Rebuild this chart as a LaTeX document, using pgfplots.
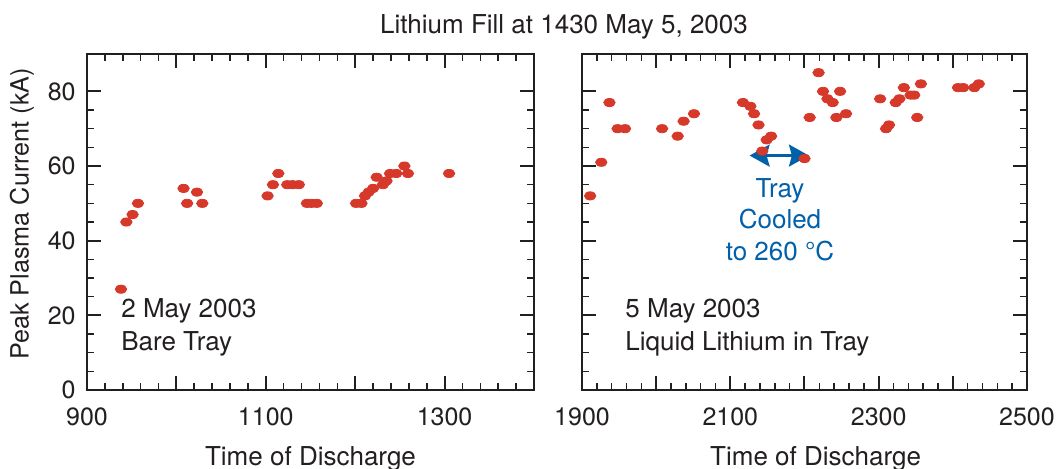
\documentclass[border=0pt]{standalone}
\usepackage{fontspec}
\setmainfont{TeX Gyre Heros}
\usepackage{pgfplots}
\pgfplotsset{compat=1.18}
\usetikzlibrary{arrows.meta}
\definecolor{dotred}{RGB}{214,56,42}
\definecolor{annblue}{RGB}{0,96,170}
\definecolor{ink}{RGB}{35,31,32}

\pgfplotstableread{
x y
938 27
944 45
951 47
957 50
1008 54
1012 50
1023 53
1029 50
1102 52
1108 55
1114 58
1124 55
1130 55
1137 55
1146 50
1151 50
1157 50
1201 50
1207 50
1211 52
1215 53
1220 54
1224 57
1231 55
1235 56
1239 58
1246 58
1255 60
1259 58
1305 58
}\leftdata

\pgfplotstableread{
x y
1911 52
1926 61
1937 77
1948 70
1958 70
2008 70
2029 68
2037 72
2051 74
2117 77
2127 76
2132 74
2138 71
2143 64
2149 67
2155 68
2200 62
2207 73
2219 85
2225 80
2231 78
2238 77
2243 73
2248 80
2256 74
2302 78
2310 70
2314 71
2323 77
2328 78
2334 81
2343 79
2348 79
2352 73
2357 82
2407 81
2414 81
2429 81
2435 82
}\rightdata

\pgfplotsset{
  myaxis/.style={
    scale only axis, anchor=south west, height=168pt,
    ymin=0, ymax=90, ytick={0,20,...,80}, minor y tick num=3,
    minor x tick num=4,
    tick align=inside,
    major tick length=7pt, minor tick length=3.5pt,
    every major tick/.append style={line width=1pt, ink},
    every minor tick/.append style={line width=0.8pt, ink},
    axis line style={line width=1.2pt, ink},
    /pgf/number format/assume math mode=true,
    ticklabel style={font=\fontsize{12.5}{15}\selectfont, text=ink},
    xticklabel style={anchor=base, inner sep=0pt, yshift=-17.5pt},
    yticklabel style={anchor=east, inner sep=0pt, xshift=-5.5pt},
    label style={font=\fontsize{13}{16}\selectfont, text=ink},
    clip=false,
  },
  dots/.style={only marks, mark=*, mark size=2.05pt, color=dotred,
    mark options={fill=dotred, draw=none, xscale=1.4}},
}

\begin{document}
\begin{tikzpicture}
\node[anchor=base, font=\fontsize{13}{16}\selectfont, text=ink] at (282pt,-16.5pt) {Lithium Fill at 1430 May 5, 2003};

\begin{axis}[myaxis,
  at={(43.5pt,-195pt)}, width=223.5pt,
  xmin=900, xmax=1400,
  xtick={900,1000,...,1400},
  xticklabels={900,,1100,,1300,},
  xlabel={Time of Discharge},
  xlabel style={at={(axis description cs:0.5,-0.2232)}, anchor=base, inner sep=0pt},
  ylabel={Peak Plasma Current (kA)},
  ylabel style={at={(axis description cs:-0.1454,0.524)}, anchor=center, inner sep=0pt, font=\fontsize{12.6}{15}\selectfont},
]
\addplot[dots] table[x=x,y=y] {\leftdata};
\node[anchor=base west, font=\fontsize{13}{16}\selectfont, text=ink, inner sep=0pt] at (axis cs:938,19.3) {2 May 2003};
\node[anchor=base west, font=\fontsize{13}{16}\selectfont, text=ink, inner sep=0pt] at (axis cs:938,10.7) {Bare Tray};
\end{axis}

\begin{axis}[myaxis,
  at={(291pt,-195pt)}, width=222.5pt,
  xmin=1900, xmax=2500,
  xtick={1900,2000,...,2500},
  xticklabels={1900,,2100,,2300,,2500},
  yticklabels={},
  xlabel={Time of Discharge},
  xlabel style={at={(axis description cs:0.525,-0.2232)}, anchor=base, inner sep=0pt},
]
\addplot[dots] table[x=x,y=y] {\rightdata};
\draw[annblue, line width=1.2pt, {Stealth[length=10pt,width=11pt,inset=1.5pt]}-{Stealth[length=10pt,width=11pt,inset=1.5pt]}] (axis cs:2126,62.8) -- (axis cs:2206,62.8);
\node[anchor=base, font=\fontsize{13}{16}\selectfont, text=annblue, inner sep=0pt] at (axis cs:2167,51.7) {Tray};
\node[anchor=base, font=\fontsize{13}{16}\selectfont, text=annblue, inner sep=0pt] at (axis cs:2167,43.2) {Cooled};
\node[anchor=base, font=\fontsize{13}{16}\selectfont, text=annblue, inner sep=0pt] at (axis cs:2167,34.6) {to 260 °C};
\node[anchor=base west, font=\fontsize{13}{16}\selectfont, text=ink, inner sep=0pt] at (axis cs:1958,19.3) {5 May 2003};
\node[anchor=base west, font=\fontsize{13}{16}\selectfont, text=ink, inner sep=0pt] at (axis cs:1958,10.7) {Liquid Lithium in Tray};
\end{axis}

\pgfresetboundingbox
\useasboundingbox (0,0) rectangle (531pt,-234pt);
\end{tikzpicture}
\end{document}
